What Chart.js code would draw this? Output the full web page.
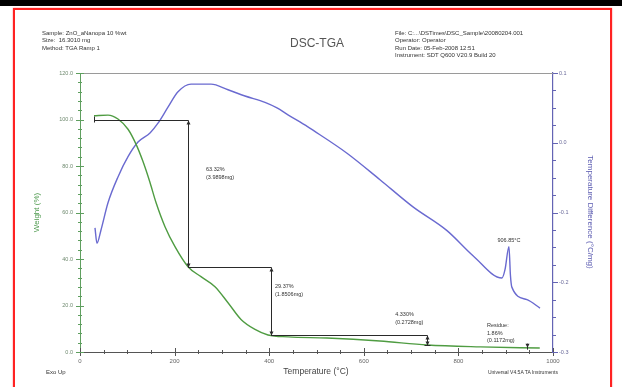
<!DOCTYPE html>
<html>
<head>
<meta charset="utf-8">
<script src="https://cdn.jsdelivr.net/npm/chart.js@4.4.1/dist/chart.umd.min.js"></script>
<style>
  html, body { margin: 0; padding: 0; background: #fff; width: 622px; height: 387px; overflow: hidden;
    font-family: "Liberation Sans", Arial, sans-serif; }
  #topbar { position: absolute; left: 0; top: 0; width: 622px; height: 6px; background: #000; }
  #frame { position: absolute; left: 13px; top: 8px; width: 595px; height: 385px;
    border: 2px solid #f22; box-shadow: 0 0 1.5px #f77; }
  #plot { position: absolute; left: 0; top: 0; }
  .txt { position: absolute; white-space: pre; color: #333; font-size: 6px; line-height: 7.3px; }
  #title { position: absolute; left: 262px; width: 110px; top: 36px; text-align: center;
    font-size: 12px; color: #555; }
</style>
</head>
<body>
<div id="topbar"></div>
<div id="frame"></div>
<canvas id="plot" width="622" height="387"></canvas>
<div class="txt" id="hdrLeft" style="left:42px; top:30px;"></div>
<div id="title">DSC-TGA</div>
<div class="txt" id="hdrRight" style="left:395px; top:30px;"></div>
<div class="txt" style="left:46px; top:369px;">Exo Up</div>
<div class="txt" style="left:480px; width:78px; text-align:right; top:369px; font-size:5px;">Universal V4.5A TA Instruments</div>

<script>
// ---- run header ----
const headerLeft = [
  "Sample: ZnO_aNanopa 10 %wt",
  "Size:  16.3010 mg",
  "Method: TGA Ramp 1"
];
const headerRight = [
  "File: C:...\\DSTimes\\DSC_Sample\\20080204.001",
  "Operator: Operator",
  "Run Date: 05-Feb-2008 12:51",
  "Instrument: SDT Q600 V20.9 Build 20"
];

// ---- weight curve (TGA) ----
const tgaTemp   = [29.6, 59.2, 80.3, 101.5, 118.4, 133.0, 148.0, 160.7, 179.7, 200.8, 228.3, 255.8,
                   285.4, 312.9, 340.4, 370.0, 397.5, 440.0, 522.0, 634.0, 734.0, 846.0, 972.0];
const tgaWeight = [101.6, 101.9, 100.2, 95.8, 89.4, 82.0, 72.9, 64.3, 53.9, 45.3, 36.7, 32.4,
                   28.1, 21.2, 14.0, 9.7, 7.3, 6.5, 6.0, 4.7, 3.0, 2.2, 1.7];

// ---- temperature difference curve (DSC) ----
const dscTemp = [31.7, 35.9, 44.4, 59.2, 80.3, 101.5, 122.6, 148.0, 164.9, 186.0, 207.2, 234.7,
                 277.0, 312.9, 348.8, 391.1, 416.5, 439.7, 465.0, 492.6, 564.5, 634.2, 704.0, 775.9,
                 830.9, 892.2, 898.5, 906.85, 910.0, 913.0, 945.0, 972.5];
const dscValue = [-0.122, -0.144, -0.125, -0.086, -0.049, -0.020, 0.001, 0.014, 0.028, 0.051, 0.073, 0.084,
                  0.084, 0.076, 0.067, 0.058, 0.050, 0.040, 0.030, 0.018, -0.015, -0.053, -0.092, -0.126,
                  -0.162, -0.194, -0.182, -0.149, -0.190, -0.207, -0.225, -0.237];

// ---- axes ----
const tempTicks   = [0, 200, 400, 600, 800, 1000];
const weightTicks = [0, 20, 40, 60, 80, 100, 120];
const dscTicks    = [-0.3, -0.2, -0.1, 0.0, 0.1];

// ---- weight-loss steps ----
const stepTemps  = [30.0, 228.3, 403.8, 734.0];
const stepLevels = [100.0, 36.68, 7.31, 2.98];
const sampleMass = 6.3010;           // mg
const residueTemp = 945.0;
const residueWeight = 1.86;

document.getElementById('hdrLeft').textContent = headerLeft.join('\n');
document.getElementById('hdrRight').textContent = headerRight.join('\n');

const FONT = '"Liberation Sans", Arial, sans-serif';
const INK = '#2a2a2a';

function arrow(ctx, x, y, dir) {       // dir: -1 up, +1 down
  ctx.beginPath();
  ctx.moveTo(x, y);
  ctx.lineTo(x - 2, y - dir * 4);
  ctx.lineTo(x + 2, y - dir * 4);
  ctx.closePath();
  ctx.fill();
}

const decor = {
  id: 'decor',
  afterDatasetsDraw(chart) {
    const { ctx, chartArea: a, scales } = chart;
    const sx = scales.x, sw = scales.yW, sd = scales.yD;
    ctx.save();

    // frame top line
    ctx.strokeStyle = '#9a9a9a';
    ctx.lineWidth = 1;
    ctx.beginPath(); ctx.moveTo(a.left, a.top + 0.5); ctx.lineTo(a.right, a.top + 0.5); ctx.stroke();

    // x ticks (major + 3 minor)
    ctx.strokeStyle = '#555';
    for (let i = 0; i < tempTicks.length; i++) {
      const px = Math.round(sx.getPixelForValue(tempTicks[i])) + 0.5;
      ctx.beginPath(); ctx.moveTo(px, a.bottom - 4); ctx.lineTo(px, a.bottom + 4); ctx.stroke();
      if (i < tempTicks.length - 1) {
        const step = (tempTicks[i + 1] - tempTicks[i]) / 4;
        for (let k = 1; k < 4; k++) {
          const mx = Math.round(sx.getPixelForValue(tempTicks[i] + k * step)) + 0.5;
          ctx.beginPath(); ctx.moveTo(mx, a.bottom - 2); ctx.lineTo(mx, a.bottom + 2); ctx.stroke();
        }
      }
    }

    // left ticks
    ctx.strokeStyle = '#5f9f5f';
    for (let i = 0; i < weightTicks.length; i++) {
      const py = Math.round(sw.getPixelForValue(weightTicks[i])) + 0.5;
      ctx.beginPath(); ctx.moveTo(a.left - 4, py); ctx.lineTo(a.left + 4, py); ctx.stroke();
      if (i < weightTicks.length - 1) {
        const step = (weightTicks[i + 1] - weightTicks[i]) / 5;
        for (let k = 1; k < 5; k++) {
          const my = Math.round(sw.getPixelForValue(weightTicks[i] + k * step)) + 0.5;
          ctx.beginPath(); ctx.moveTo(a.left - 2, my); ctx.lineTo(a.left + 2, my); ctx.stroke();
        }
      }
    }

    // right ticks
    ctx.strokeStyle = '#6464b4';
    for (let i = 0; i < dscTicks.length; i++) {
      const py = Math.round(sd.getPixelForValue(dscTicks[i])) + 0.5;
      ctx.beginPath(); ctx.moveTo(a.right, py); ctx.lineTo(a.right + 5, py); ctx.stroke();
      if (i < dscTicks.length - 1) {
        const step = (dscTicks[i + 1] - dscTicks[i]) / 4;
        for (let k = 1; k < 4; k++) {
          const my = Math.round(sd.getPixelForValue(dscTicks[i] + k * step)) + 0.5;
          ctx.beginPath(); ctx.moveTo(a.right, my); ctx.lineTo(a.right + 3, my); ctx.stroke();
        }
      }
    }

    // axis titles
    ctx.fillStyle = '#4e9a4e';
    ctx.font = '8px ' + FONT;
    ctx.textAlign = 'center'; ctx.textBaseline = 'middle';
    ctx.save(); ctx.translate(37, (a.top + a.bottom) / 2); ctx.rotate(-Math.PI / 2);
    ctx.fillText('Weight (%)', 0, 0); ctx.restore();

    ctx.fillStyle = '#5a5ab0';
    ctx.save(); ctx.translate(590, 212); ctx.rotate(Math.PI / 2);
    ctx.fillText('Temperature Difference (°C/mg)', 0, 0); ctx.restore();

    ctx.fillStyle = '#444';
    ctx.font = '8.5px ' + FONT;
    ctx.fillText('Temperature (°C)', 316, 372);

    // weight-loss step dimensions
    ctx.strokeStyle = INK; ctx.fillStyle = INK; ctx.lineWidth = 1;
    const X = t => sx.getPixelForValue(t), Y = w => sw.getPixelForValue(w);
    for (let i = 0; i < stepTemps.length - 1; i++) {
      const y0 = Math.round(Y(stepLevels[i])) + 0.5;
      const y1 = Math.round(Y(stepLevels[i + 1])) + 0.5;
      const xa = X(stepTemps[i]), xb = Math.round(X(stepTemps[i + 1])) + 0.5;
      ctx.beginPath(); ctx.moveTo(xa, y0); ctx.lineTo(xb, y0); ctx.stroke();
      ctx.beginPath(); ctx.moveTo(xb, y0); ctx.lineTo(xb, y1); ctx.stroke();
      arrow(ctx, xb, y0, -1);
      arrow(ctx, xb, y1, 1);
    }
    // start marker of first step
    {
      const x0 = Math.round(X(stepTemps[0])) + 0.5, y0 = Y(stepLevels[0]);
      ctx.beginPath(); ctx.moveTo(x0, y0 - 3); ctx.lineTo(x0, y0 + 3); ctx.stroke();
    }
    // end mark of the last step
    {
      const n = stepTemps.length;
      const y = Math.round(Y(stepLevels[n - 1])) + 0.5, x = Math.round(X(stepTemps[n - 1])) + 0.5;
      ctx.beginPath(); ctx.moveTo(x - 3, y); ctx.lineTo(x + 3, y); ctx.stroke();
    }
    // residue marker
    {
      const x = Math.round(X(residueTemp)) + 0.5, y = Y(residueWeight);
      ctx.beginPath(); ctx.moveTo(x, y - 4); ctx.lineTo(x, y + 2); ctx.stroke();
      arrow(ctx, x, y, 1);
    }

    // step labels
    ctx.font = '5.5px ' + FONT;
    ctx.textAlign = 'left'; ctx.textBaseline = 'middle';
    ctx.fillStyle = '#333';
    const labelOffsets = [[18, -24], [4, -14], [-32, -21]];
    for (let i = 0; i < stepTemps.length - 1; i++) {
      const loss = stepLevels[i] - stepLevels[i + 1];
      const mass = loss / 100 * sampleMass;
      const xb = X(stepTemps[i + 1]);
      const ymid = (Y(stepLevels[i]) + Y(stepLevels[i + 1])) / 2;
      const [dx, dy] = labelOffsets[i];
      const lx = xb + dx, ly = i < 2 ? ymid + dy : Y(stepLevels[i]) + dy;
      ctx.fillText(loss.toFixed(i === 2 ? 3 : 2) + '%', lx, ly);
      ctx.fillText('(' + mass.toFixed(4) + 'mg)', lx, ly + 8);
    }
    // residue label
    {
      const lx = X(residueTemp) - 40, ly = Y(residueWeight) - 22;
      ctx.fillText('Residue:', lx, ly);
      ctx.fillText(residueWeight.toFixed(2) + '%', lx, ly + 7.5);
      ctx.fillText('(' + (residueWeight / 100 * sampleMass).toFixed(4) + 'mg)', lx, ly + 15);
    }
    // DSC peak label
    {
      let pk = -1;
      for (let i = 0; i < dscTemp.length; i++) {
        if (dscTemp[i] > 850 && (pk < 0 || dscValue[i] > dscValue[pk])) pk = i;
      }
      const px = X(dscTemp[pk]), py = sd.getPixelForValue(dscValue[pk]);
      ctx.textAlign = 'center';
      ctx.fillText(dscTemp[pk].toFixed(2) + '°C', px, py - 6);
    }
    ctx.restore();
  }
};

new Chart(document.getElementById('plot').getContext('2d'), {
  type: 'line',
  data: {
    datasets: [
      {
        label: 'Weight (%)',
        data: tgaTemp.map((t, i) => ({ x: t, y: tgaWeight[i] })),
        yAxisID: 'yW',
        borderColor: '#4f9c42',
        borderWidth: 1.4,
        pointRadius: 0,
        cubicInterpolationMode: 'monotone'
      },
      {
        label: 'Temperature Difference (°C/mg)',
        data: dscTemp.map((t, i) => ({ x: t, y: dscValue[i] })),
        yAxisID: 'yD',
        borderColor: '#6a6ad0',
        borderWidth: 1.4,
        pointRadius: 0,
        cubicInterpolationMode: 'monotone'
      }
    ]
  },
  options: {
    responsive: false,
    animation: false,
    layout: { padding: { top: 73, left: 0, right: 0, bottom: 0 } },
    plugins: { legend: { display: false }, tooltip: { enabled: false } },
    scales: {
      x: {
        type: 'linear', min: tempTicks[0], max: tempTicks[tempTicks.length - 1],
        afterBuildTicks: s => { s.ticks = tempTicks.map(v => ({ value: v })); },
        afterFit: s => { s.height = 35; },
        grid: { display: false, drawTicks: false },
        border: { color: '#555', width: 1 },
        ticks: { font: { size: 6, family: FONT }, color: '#666', padding: 6, maxRotation: 0,
                 callback: v => String(v) }
      },
      yW: {
        type: 'linear', position: 'left', min: weightTicks[0], max: weightTicks[weightTicks.length - 1],
        afterBuildTicks: s => { s.ticks = weightTicks.map(v => ({ value: v })); },
        afterFit: s => { s.width = 80; },
        grid: { display: false, drawTicks: false },
        border: { color: '#5f9f5f', width: 1 },
        ticks: { font: { size: 5.5, family: FONT }, color: '#6f8a6f', padding: 7,
                 callback: v => Number(v).toFixed(1) }
      },
      yD: {
        type: 'linear', position: 'right', min: dscTicks[0], max: dscTicks[dscTicks.length - 1],
        afterBuildTicks: s => { s.ticks = dscTicks.map(v => ({ value: v })); },
        afterFit: s => { s.width = 69; },
        grid: { display: false, drawTicks: false },
        border: { color: '#6464b4', width: 1.2 },
        ticks: { font: { size: 5.5, family: FONT }, color: '#6a6a9a', padding: 6,
                 callback: v => Number(v).toFixed(1) }
      }
    }
  },
  plugins: [decor]
});
</script>
</body>
</html>
